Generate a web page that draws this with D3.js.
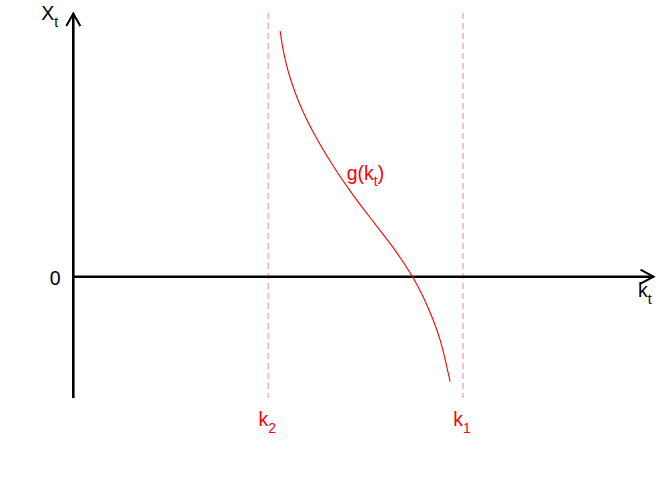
<!DOCTYPE html>
<html>
<head>
<meta charset="utf-8">
<script src="https://cdn.jsdelivr.net/npm/d3@7"></script>
<style>
  html, body { margin: 0; padding: 0; background: #fff; }
  svg { display: block; font-family: "Liberation Sans", Arial, sans-serif; }
</style>
</head>
<body>
<svg id="chart" width="672" height="480"></svg>
<script>
// ---- data ----
const curveK = [35.55, 35.95, 36.6, 37.4, 38.5, 40.0, 42.0, 44.5, 47.5, 51.0, 55.0, 58.4, 60.2, 61.9, 63.1, 63.95, 64.78];
const curveX = [24.57, 23.0, 21.2, 19.6, 17.8, 15.8, 13.6, 11.2, 8.6, 5.9, 3.0, 0.0, -2.0, -4.3, -6.3, -8.3, -10.5];
const kLines = [33.5, 67.0];
const kLineLabels = ["2", "1"];
const xDomain = [0, 100];
const yDomain = [-12.13, 26.17];

const svg = d3.select("#chart");
const x = d3.scaleLinear().domain(xDomain).range([73.3, 655]);
const y = d3.scaleLinear().domain(yDomain).range([398, 15]);

const mainSize = 19.5, subSize = 14;

// dashed vertical lines at k1, k2
svg.selectAll("line.kline").data(kLines).enter().append("line")
  .attr("class", "kline")
  .attr("x1", d => x(d)).attr("x2", d => x(d))
  .attr("y1", y(yDomain[1]) - 2).attr("y2", y(yDomain[0]))
  .attr("stroke", "#f08a8a").attr("stroke-width", 1)
  .attr("stroke-dasharray", "6,4");

// axes
const axisColor = "#000";
const aw = 2.6;
svg.append("line").attr("x1", x(0)).attr("x2", x(0))
  .attr("y1", y(yDomain[0])).attr("y2", y(yDomain[1]) - 1.5)
  .attr("stroke", axisColor).attr("stroke-width", aw);
svg.append("path")
  .attr("d", `M${x(0) - 7},${y(yDomain[1]) + 11} L${x(0)},${y(yDomain[1]) - 1.5} L${x(0) + 7},${y(yDomain[1]) + 11}`)
  .attr("fill", "none").attr("stroke", axisColor).attr("stroke-width", 2);
const xEnd = x(xDomain[1]) - 1.5;
svg.append("line").attr("x1", x(0)).attr("x2", xEnd)
  .attr("y1", y(0)).attr("y2", y(0))
  .attr("stroke", axisColor).attr("stroke-width", aw);
svg.append("path")
  .attr("d", `M${xEnd - 13},${y(0) - 7} L${xEnd},${y(0)} L${xEnd - 13},${y(0) + 7}`)
  .attr("fill", "none").attr("stroke", axisColor).attr("stroke-width", 2);

// curve g(k)
const pts = curveK.map((k, i) => [k, curveX[i]]);
svg.append("path").datum(pts)
  .attr("d", d3.line().x(d => x(d[0])).y(d => y(d[1])).curve(d3.curveBasis))
  .attr("fill", "none").attr("stroke", "#ff0000").attr("stroke-width", 1.1);

function subLabel(px, py, main, sub, color, anchor) {
  const t = svg.append("text").attr("x", px).attr("y", py)
    .attr("fill", color).attr("font-size", mainSize).attr("text-anchor", anchor || "start");
  t.append("tspan").text(main);
  t.append("tspan").attr("font-size", subSize).attr("dy", 7).text(sub);
  return t;
}

// axis labels
subLabel(x(0) - 32, y(yDomain[1]) + 5, "X", "t", "#000");
subLabel(x(xDomain[1]) - 17, y(0) + 20, "k", "t", "#000");
svg.append("text").attr("x", x(0) - 18).attr("y", y(0) + 8)
  .attr("text-anchor", "middle").attr("font-size", mainSize).text("0");

// curve label
const g = svg.append("text").attr("x", x(47.0)).attr("y", y(9.7))
  .attr("fill", "#ff0000").attr("font-size", mainSize);
g.append("tspan").text("g(k");
g.append("tspan").attr("font-size", subSize).attr("dy", 6).text("t");
g.append("tspan").attr("dy", -6).text(")");

// k labels
kLines.forEach((k, i) => {
  subLabel(x(k) - 1, 426, "k", kLineLabels[i], "#ff0000", "middle");
});
</script>
</body>
</html>
